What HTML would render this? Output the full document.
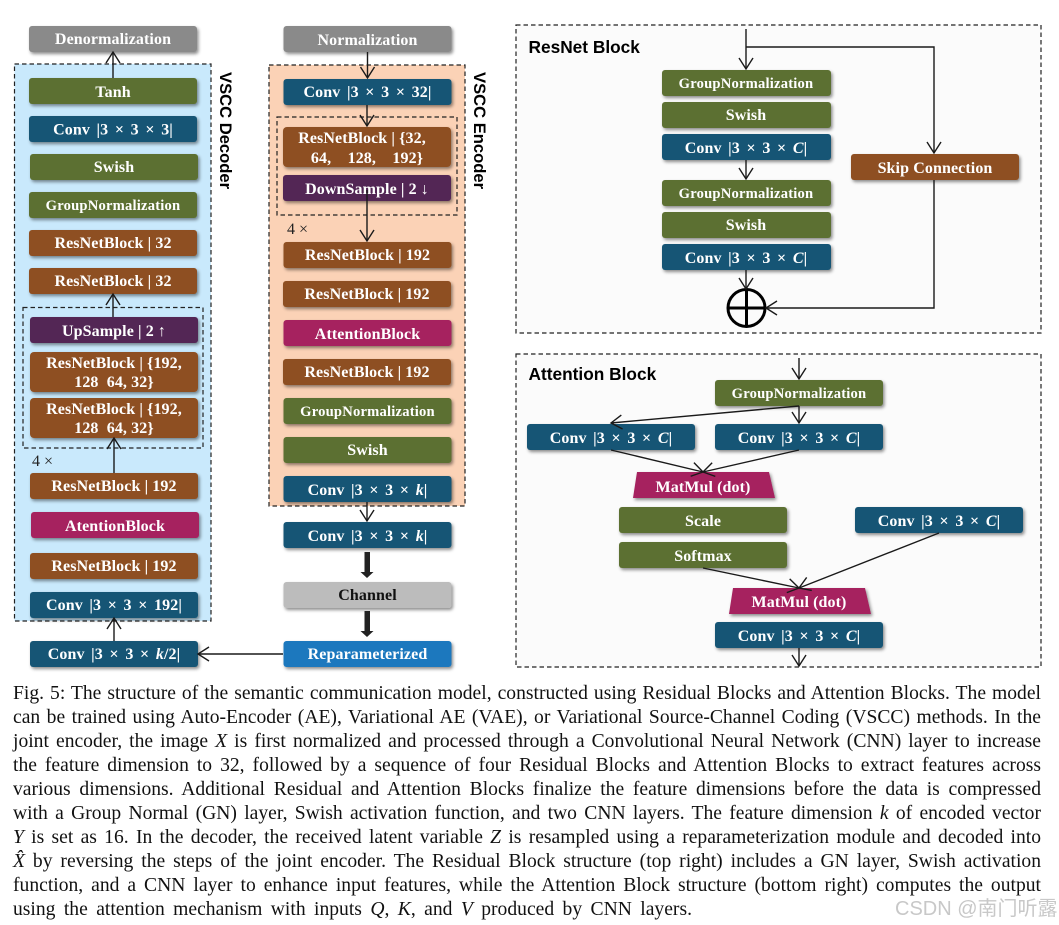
<!DOCTYPE html>
<html><head><meta charset="utf-8">
<style>
html,body{margin:0;padding:0;background:#fff;width:1059px;height:925px;overflow:hidden}
svg{position:absolute;left:0;top:0;filter:blur(.35px)}
.g{fill:#5b7030}.b{fill:#165574}.r{fill:#8e4f20}.p{fill:#522655}.m{fill:#a6245f}.y{fill:#8a8a8a}.c{fill:#bcbcbc}.u{fill:#1a78be}
rect.bx,polygon.bx{filter:url(#s)}
.t{font:bold 16px "Liberation Serif",serif;fill:#fff;text-anchor:middle;letter-spacing:.1px}
.n{font-size:14.6px;letter-spacing:.2px}
.k{word-spacing:2.5px}
.l{font:bold 17.3px "Liberation Sans",sans-serif;fill:#000}
.v{font:bold 16.6px "Liberation Sans",sans-serif;fill:#000}
.a{stroke:#1a1a1a;stroke-width:1.4;fill:none;marker-end:url(#h)}
.d{fill:none;stroke:#222;stroke-width:1.2;stroke-dasharray:4.5 3}
.four{font:16px "Liberation Serif",serif;fill:#222}
tspan.i{font-style:italic}
#cap{position:absolute;left:13px;top:682px;width:1028px;font:19.6px/24px "Liberation Serif",serif;color:#111;word-spacing:-2px;filter:blur(.3px)}
#cap div{white-space:nowrap;text-align:justify;text-align-last:justify;height:24px}
#cap div.last{text-align-last:left;word-spacing:3.5px}
#wm{position:absolute;left:895px;top:892px;font:20px "Liberation Sans","Noto Sans CJK SC",sans-serif;color:#c8c8c8;white-space:nowrap}
</style></head><body>
<svg width="1059" height="925" viewBox="0 0 1059 925" xmlns="http://www.w3.org/2000/svg">
<defs>
<filter id="s" x="-10%" y="-30%" width="120%" height="170%"><feDropShadow dx="1.5" dy="2" stdDeviation="1.5" flood-color="#000" flood-opacity=".45"/></filter>
<marker id="h" markerUnits="userSpaceOnUse" markerWidth="18" markerHeight="18" refX="12" refY="8" orient="auto"><path d="M1,1 L12,8 L1,15" fill="none" stroke="#1a1a1a" stroke-width="1.4"/></marker>
</defs>

<!-- panels -->
<rect x="14.5" y="64" width="196.500" height="557" fill="#c9e9fc"/>
<rect x="14.5" y="64" width="196.500" height="557" class="d"/>
<rect x="269" y="65" width="196" height="441" fill="#fbd2b6"/>
<rect x="269" y="65" width="196" height="441" class="d"/>
<rect x="516" y="25" width="525" height="308" class="d" style="fill:#fbfbfb"/>
<rect x="516" y="354" width="525" height="313" class="d" style="fill:#fbfbfb"/>
<rect x="23" y="307.500" width="180" height="140.500" class="d"/>
<rect x="277" y="117" width="180" height="98" class="d"/>

<!-- decoder -->
<rect class="bx y" x="29" y="26" width="168" height="26" rx="3"/><text class="t" x="113" y="44">Denormalization</text>
<rect class="bx g" x="29" y="78" width="168" height="26" rx="3"/><text class="t" x="113" y="97">Tanh</text>
<rect class="bx b" x="29" y="116" width="168" height="26" rx="3"/><text class="t k" x="113" y="134.500">Conv |3 × 3 × 3|</text>
<rect class="bx g" x="30" y="154" width="168" height="26" rx="3"/><text class="t" x="114" y="172">Swish</text>
<rect class="bx g" x="29" y="192" width="168" height="26" rx="3"/><text class="t n" x="113" y="210">GroupNormalization</text>
<rect class="bx r" x="29" y="230" width="168" height="26" rx="3"/><text class="t" x="113" y="248">ResNetBlock | 32</text>
<rect class="bx r" x="29" y="268" width="168" height="26" rx="3"/><text class="t" x="113" y="286">ResNetBlock | 32</text>
<rect class="bx p" x="30" y="317" width="168" height="26" rx="3"/><text class="t" x="114" y="336">UpSample | 2 ↑</text>
<rect class="bx r" x="30" y="352" width="168" height="40" rx="4"/><text class="t" x="114" y="368">ResNetBlock | {192,</text><text class="t" x="114" y="387" xml:space="preserve">128  64, 32}</text>
<rect class="bx r" x="30" y="398" width="168" height="40" rx="4"/><text class="t" x="114" y="414">ResNetBlock | {192,</text><text class="t" x="114" y="433" xml:space="preserve">128  64, 32}</text>
<text class="four" x="32" y="466">4 ×</text>
<rect class="bx r" x="30" y="473" width="168" height="26" rx="3"/><text class="t" x="114" y="491">ResNetBlock | 192</text>
<rect class="bx m" x="31" y="512" width="168" height="26" rx="3"/><text class="t" x="115" y="531">AtentionBlock</text>
<rect class="bx r" x="30" y="553" width="168" height="26" rx="3"/><text class="t" x="114" y="571">ResNetBlock | 192</text>
<rect class="bx b" x="30" y="592" width="168" height="26" rx="3"/><text class="t k" x="114" y="610">Conv |3 × 3 × 192|</text>
<rect class="bx b" x="30" y="641" width="168" height="26" rx="3"/><text class="t k" x="114" y="659">Conv |3 × 3 × <tspan class="i">k</tspan>/2|</text>

<!-- encoder -->
<rect class="bx y" x="283.500" y="26" width="168" height="26" rx="3"/><text class="t" x="367.500" y="45">Normalization</text>
<rect class="bx b" x="283.500" y="79" width="168" height="26" rx="3"/><text class="t k" x="367.500" y="97">Conv |3 × 3 × 32|</text>
<rect class="bx r" x="283" y="127" width="168" height="40" rx="4"/><text class="t" x="362" y="143" xml:space="preserve">ResNetBlock | {32,</text><text class="t" x="367" y="163" xml:space="preserve">64,    128,    192}</text>
<rect class="bx p" x="283" y="175" width="168" height="26" rx="3"/><text class="t" x="367" y="194">DownSample | 2 ↓</text>
<text class="four" x="287" y="234">4 ×</text>
<rect class="bx r" x="283.500" y="242" width="168" height="26" rx="3"/><text class="t" x="367.500" y="260">ResNetBlock | 192</text>
<rect class="bx r" x="283" y="281" width="168" height="26" rx="3"/><text class="t" x="367" y="299">ResNetBlock | 192</text>
<rect class="bx m" x="283.500" y="320" width="168" height="26" rx="3"/><text class="t" x="367.500" y="339">AttentionBlock</text>
<rect class="bx r" x="283" y="359" width="168" height="26" rx="3"/><text class="t" x="367" y="377">ResNetBlock | 192</text>
<rect class="bx g" x="283.500" y="398" width="168" height="26" rx="3"/><text class="t n" x="367.500" y="416">GroupNormalization</text>
<rect class="bx g" x="283.500" y="437" width="168" height="26" rx="3"/><text class="t" x="367.500" y="455">Swish</text>
<rect class="bx b" x="283.500" y="476" width="168" height="26" rx="3"/><text class="t k" x="367.500" y="495">Conv |3 × 3 × <tspan class="i">k</tspan>|</text>
<rect class="bx b" x="283.500" y="522" width="168" height="26" rx="3"/><text class="t k" x="367.500" y="541">Conv |3 × 3 × <tspan class="i">k</tspan>|</text>
<rect class="bx c" x="283.500" y="582" width="168" height="26" rx="3"/><text class="t" style="fill:#111" x="367.500" y="600">Channel</text>
<rect class="bx u" x="283.500" y="641" width="168" height="26" rx="3"/><text class="t" x="367.500" y="659">Reparameterized</text>

<!-- resnet block -->
<text class="l" x="528.500" y="53">ResNet Block</text>
<rect class="bx g" x="662" y="70" width="169" height="26" rx="3"/><text class="t n" x="746" y="88">GroupNormalization</text>
<rect class="bx g" x="662" y="102" width="169" height="26" rx="3"/><text class="t" x="746" y="120">Swish</text>
<rect class="bx b" x="662" y="134" width="169" height="26" rx="3"/><text class="t k" x="746" y="153">Conv |3 × 3 × <tspan class="i">C</tspan>|</text>
<rect class="bx g" x="662" y="180" width="169" height="26" rx="3"/><text class="t n" x="746" y="198">GroupNormalization</text>
<rect class="bx g" x="662" y="212" width="169" height="26" rx="3"/><text class="t" x="746" y="230">Swish</text>
<rect class="bx b" x="662" y="244" width="169" height="26" rx="3"/><text class="t k" x="746" y="263">Conv |3 × 3 × <tspan class="i">C</tspan>|</text>
<rect class="bx r" x="851" y="154" width="168" height="26" rx="3"/><text class="t" x="935" y="173">Skip Connection</text>
<circle cx="746.500" cy="308" r="18.500" fill="none" stroke="#000" stroke-width="3"/>
<path d="M746.500,289V327M728,308H765" stroke="#000" stroke-width="3" fill="none"/>

<!-- attention block -->
<text class="l" x="528.500" y="380">Attention Block</text>
<rect class="bx g" x="715" y="380" width="168" height="26" rx="3"/><text class="t n" x="799" y="398">GroupNormalization</text>
<rect class="bx b" x="527" y="424" width="168" height="26" rx="3"/><text class="t k" x="611" y="443">Conv |3 × 3 × <tspan class="i">C</tspan>|</text>
<rect class="bx b" x="715" y="424" width="168" height="26" rx="3"/><text class="t k" x="799" y="443">Conv |3 × 3 × <tspan class="i">C</tspan>|</text>
<polygon class="bx m" points="637,472 769,472 775,498 633,498"/><text class="t" x="703" y="492">MatMul (dot)</text>
<rect class="bx g" x="619" y="507" width="168" height="26" rx="3"/><text class="t" x="703" y="526">Scale</text>
<rect class="bx g" x="619" y="542" width="168" height="26" rx="3"/><text class="t" x="703" y="561">Softmax</text>
<rect class="bx b" x="855" y="507" width="168" height="26" rx="3"/><text class="t k" x="939" y="526">Conv |3 × 3 × <tspan class="i">C</tspan>|</text>
<polygon class="bx m" points="733,588 865,588 871,614 729,614"/><text class="t" x="799" y="607">MatMul (dot)</text>
<rect class="bx b" x="715" y="622" width="168" height="26" rx="3"/><text class="t k" x="799" y="641">Conv |3 × 3 × <tspan class="i">C</tspan>|</text>

<!-- arrows -->
<path class="a" d="M113,78V52"/>
<path class="a" d="M113,317V294"/>
<path class="a" d="M114,473V438"/>
<path class="a" d="M114,641V618"/>
<path class="a" d="M283,654H198"/>
<path class="a" d="M367.500,52V78"/>
<path class="a" d="M367,105V126"/>
<path class="a" d="M367,190V241"/>
<path class="a" d="M367,502V521"/>
<path d="M364.500,552H370V572H373.500L367,578L360.500,572H364.500Z" fill="#222"/>
<path d="M364.500,611H370V631H373.500L367,637L360.500,631H364.500Z" fill="#222"/>
<path class="a" d="M746,29V69"/>
<path class="a" d="M746,47H934V153"/>
<path class="a" d="M746,160V179"/>
<path class="a" d="M746,270V289"/>
<path class="a" d="M934,180V308H766"/>
<path class="a" d="M799,358V379"/>
<path class="a" d="M799,406V423"/>
<path class="a" d="M799,406L611,423"/>
<path class="a" d="M611,450L703,472"/>
<path class="a" d="M799,450L703,472"/>
<path class="a" d="M703,568L799,588"/>
<path class="a" d="M939,533L799,588"/>
<path class="a" d="M799,648V666"/>

<!-- vertical labels -->
<text class="v" transform="translate(220,72) rotate(90)">VSCC Decoder</text>
<text class="v" transform="translate(474,72) rotate(90)">VSCC Encoder</text>
</svg>
<div id="cap">
<div>Fig. 5: The structure of the semantic communication model, constructed using Residual Blocks and Attention Blocks. The model</div>
<div>can be trained using Auto-Encoder (AE), Variational AE (VAE), or Variational Source-Channel Coding (VSCC) methods. In the</div>
<div>joint encoder, the image <i>X</i> is first normalized and processed through a Convolutional Neural Network (CNN) layer to increase</div>
<div>the feature dimension to 32, followed by a sequence of four Residual Blocks and Attention Blocks to extract features across</div>
<div>various dimensions. Additional Residual and Attention Blocks finalize the feature dimensions before the data is compressed</div>
<div>with a Group Normal (GN) layer, Swish activation function, and two CNN layers. The feature dimension <i>k</i> of encoded vector</div>
<div><i>Y</i> is set as 16. In the decoder, the received latent variable <i>Z</i> is resampled using a reparameterization module and decoded into</div>
<div><i>X̂</i> by reversing the steps of the joint encoder. The Residual Block structure (top right) includes a GN layer, Swish activation</div>
<div>function, and a CNN layer to enhance input features, while the Attention Block structure (bottom right) computes the output</div>
<div class="last">using the attention mechanism with inputs <i>Q</i>, <i>K</i>, and <i>V</i> produced by CNN layers.</div>
</div>
<div id="wm">CSDN @南门听露</div>
</body></html>
